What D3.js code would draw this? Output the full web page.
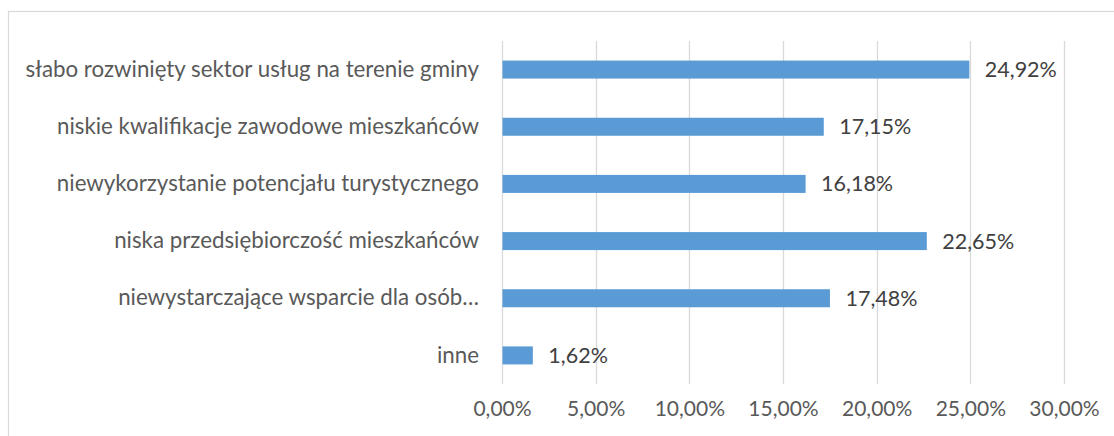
<!DOCTYPE html>
<html lang="pl">
<head>
<meta charset="UTF-8">
<title>Bariery rozwoju</title>
<script src="https://d3js.org/d3.v7.min.js"></script>
<style>
  body { margin: 0; background: #fff; }
  svg { display: block; font-family: "Lato", "Open Sans", sans-serif; }
</style>
</head>
<body>
<script>
  // data
  const categories = [
    "słabo rozwinięty sektor usług na terenie gminy",
    "niskie kwalifikacje zawodowe mieszkańców",
    "niewykorzystanie potencjału turystycznego",
    "niska przedsiębiorczość mieszkańców",
    "niewystarczające wsparcie dla osób…",
    "inne"
  ];
  const values = [24.92, 17.15, 16.18, 22.65, 17.48, 1.62];
  const ticks = [0, 5, 10, 15, 20, 25, 30];

  const width = 1114, height = 436;
  const plot = { left: 502, right: 1064, top: 41, bottom: 384 };
  const textColor = "#595959";

  const fmt = v => v.toFixed(2).replace(".", ",") + "%";

  const svg = d3.select("body").append("svg")
    .attr("width", width)
    .attr("height", height);

  // chart border (cut off at right and bottom)
  svg.append("rect")
    .attr("x", 8.5).attr("y", 11.5)
    .attr("width", width + 10).attr("height", height + 10)
    .attr("fill", "none")
    .attr("stroke", "#d9d9d9")
    .attr("stroke-width", 1.2);

  const x = d3.scaleLinear().domain([0, 30]).range([plot.left, plot.right]);
  const y = d3.scaleBand().domain(categories)
    .range([plot.top, plot.bottom])
    .paddingInner(0.685).paddingOuter(0.3425);

  // gridlines
  svg.append("g")
    .selectAll("line")
    .data(ticks)
    .join("line")
    .attr("x1", d => Math.round(x(d)) + 0.5)
    .attr("x2", d => Math.round(x(d)) + 0.5)
    .attr("y1", plot.top)
    .attr("y2", plot.bottom)
    .attr("stroke", "#d9d9d9")
    .attr("stroke-width", 1.3);

  // x axis labels
  const xAxis = svg.append("g")
    .attr("transform", "translate(0," + (plot.bottom + 14) + ")")
    .call(d3.axisBottom(x).tickValues(ticks).tickFormat(d => fmt(d)).tickSize(0));
  xAxis.select(".domain").remove();
  xAxis.selectAll("text")
    .attr("fill", textColor)
    .style("font-size", "21px")
    .style("font-family", "Lato, 'Open Sans', sans-serif");

  // category labels
  const yAxis = svg.append("g")
    .attr("transform", "translate(" + (plot.left - 23) + ",0)")
    .call(d3.axisLeft(y).tickSize(0).tickPadding(0));
  yAxis.select(".domain").remove();
  yAxis.selectAll("text")
    .attr("fill", textColor)
    .style("font-size", "22.3px")
    .style("font-family", "Lato, 'Open Sans', sans-serif");

  // bars
  svg.append("g")
    .selectAll("rect")
    .data(values)
    .join("rect")
    .attr("x", x(0) + 0.5)
    .attr("y", (d, i) => y(categories[i]))
    .attr("width", d => x(d) - x(0))
    .attr("height", y.bandwidth())
    .attr("fill", "#5b9bd5");

  // value labels
  svg.append("g")
    .selectAll("text")
    .data(values)
    .join("text")
    .attr("x", d => x(d) + 16)
    .attr("y", (d, i) => y(categories[i]) + y.bandwidth() / 2)
    .attr("dy", "0.35em")
    .attr("fill", "#404040")
    .style("font-size", "21.5px")
    .text(d => fmt(d));
</script>
</body>
</html>
